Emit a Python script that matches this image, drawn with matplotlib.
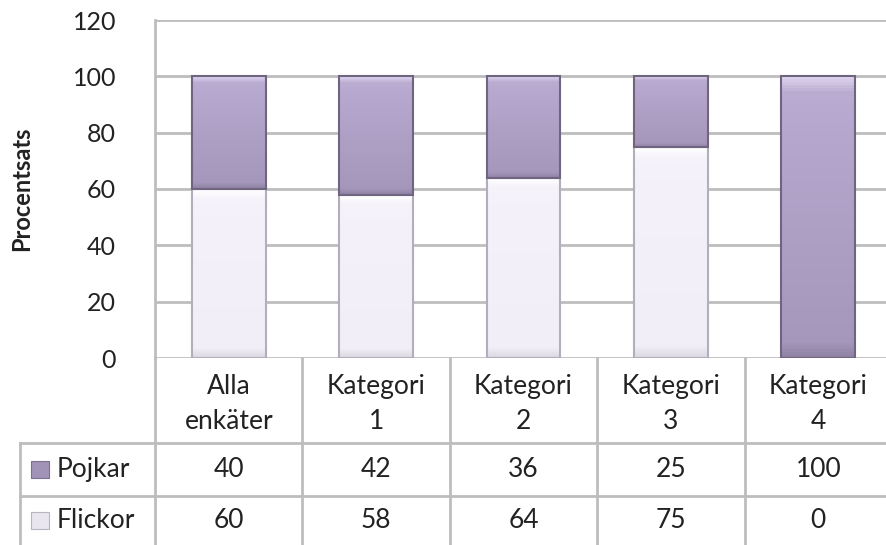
import numpy as np
from matplotlib import pyplot as plt
from matplotlib.patches import Rectangle
from matplotlib.colors import LinearSegmentedColormap

plt.rcParams['font.family'] = ['Lato', 'DejaVu Sans']

categories = ['Alla\nenkäter', 'Kategori\n1', 'Kategori\n2', 'Kategori\n3', 'Kategori\n4']
pojkar = [40, 42, 36, 25, 100]
flickor = [60, 58, 64, 75, 0]
series_names = ['Pojkar', 'Flickor']
yticks = [0, 20, 40, 60, 80, 100, 120]

W, H = 886, 545
fig = plt.figure(figsize=(W / 100, H / 100), dpi=100)

# pixel layout
left, right, top, zero = 155, 892, 20, 358
ax = fig.add_axes([left / W, (H - zero) / H, (right - left) / W, (zero - top) / H])
grid_c = '#bdbdbd'
txt_c = '#222222'

cm_p = LinearSegmentedColormap.from_list('p', ['#8f82a4', '#a597bb', '#b6a8ce', '#ddd2ee'])
cm_f = LinearSegmentedColormap.from_list('f', ['#ddd9e3', '#f1eef7', '#f4f1fa', '#ffffff'])
grad = np.concatenate([np.linspace(0, 0.35, 6), np.linspace(0.35, 0.7, 80), np.linspace(0.7, 1.0, 6)])
grad = grad[:, None]

x = np.arange(len(categories))
bw = 0.5
for xi, f, p in zip(x, flickor, pojkar):
    if f > 0:
        ax.imshow(grad, cmap=cm_f, origin='lower', aspect='auto', zorder=3,
                  extent=(xi - bw / 2, xi + bw / 2, 0, f))
    if p > 0:
        ax.imshow(grad, cmap=cm_p, origin='lower', aspect='auto', zorder=3,
                  extent=(xi - bw / 2, xi + bw / 2, f, f + p))
ax.bar(x, flickor, bw, color='none', edgecolor='#b3aebb', linewidth=1.5, zorder=4)
ax.bar(x, pojkar, bw, bottom=flickor, color='none', edgecolor='#6f6581', linewidth=1.5, zorder=4)

ax.set_xlim(-0.5, len(categories) - 0.5)
ax.set_ylim(0, 120)
ax.set_yticks(yticks)
ax.set_yticklabels([str(t) for t in yticks], fontsize=18, color=txt_c)
ax.set_xticks([])
ax.tick_params(axis='y', length=0, pad=28)
ax.yaxis.grid(True, color=grid_c, linewidth=2, zorder=0)
ax.set_axisbelow(True)
for s in ['top', 'right', 'bottom']:
    ax.spines[s].set_visible(False)
ax.spines['left'].set_color(grid_c)
ax.spines['left'].set_linewidth(2)
ax.set_ylabel('Procentsats', fontsize=17, fontweight='bold', color=txt_c, va='center')
ax.yaxis.set_label_coords(-(left - 22) / (right - left), 0.5)

# data table below, in pixel y coords and category x coords
tab = fig.add_axes([left / W, 0, (right - left) / W, (H - zero) / H])
tab.set_xlim(-0.5, len(categories) - 0.5)
tab.set_ylim(H, zero)
tab.axis('off')
leg_left = -0.5 - (left - 20) / ((right - left) / len(categories))
r1, r2, r3 = 443, 496, 548
lk = dict(color=grid_c, linewidth=2, clip_on=False)
for b in np.arange(-0.5, len(categories) + 0.5, 1):
    tab.plot([b, b], [zero, r3], **lk)
tab.plot([leg_left, len(categories) - 0.5], [r1, r1], **lk)
tab.plot([leg_left, len(categories) - 0.5], [r2, r2], **lk)
tab.plot([leg_left, leg_left], [r1, r3], **lk)

for i, c in enumerate(categories):
    tab.text(i, (zero + r1) / 2 + 3, c, ha='center', va='center', fontsize=19,
             color=txt_c, linespacing=1.5)
    tab.text(i, (r1 + r2) / 2, str(pojkar[i]), ha='center', va='center', fontsize=19, color=txt_c)
    tab.text(i, (r2 + r3) / 2 - 2, str(flickor[i]), ha='center', va='center', fontsize=19, color=txt_c)

sw = 0.12
for name, yc, fc, ec in [(series_names[0], (r1 + r2) / 2, '#a193b8', '#7c708e'),
                         (series_names[1], (r2 + r3) / 2 - 2, '#eae6f0', '#b9b4c2')]:
    tab.add_patch(Rectangle((leg_left + 0.075, yc - 8.5), sw, 17, facecolor=fc, edgecolor=ec,
                            linewidth=0.8, clip_on=False))
    tab.text(leg_left + 0.25, yc, name, ha='left', va='center', fontsize=19, color=txt_c)

fig.savefig('out.png', dpi=100)
